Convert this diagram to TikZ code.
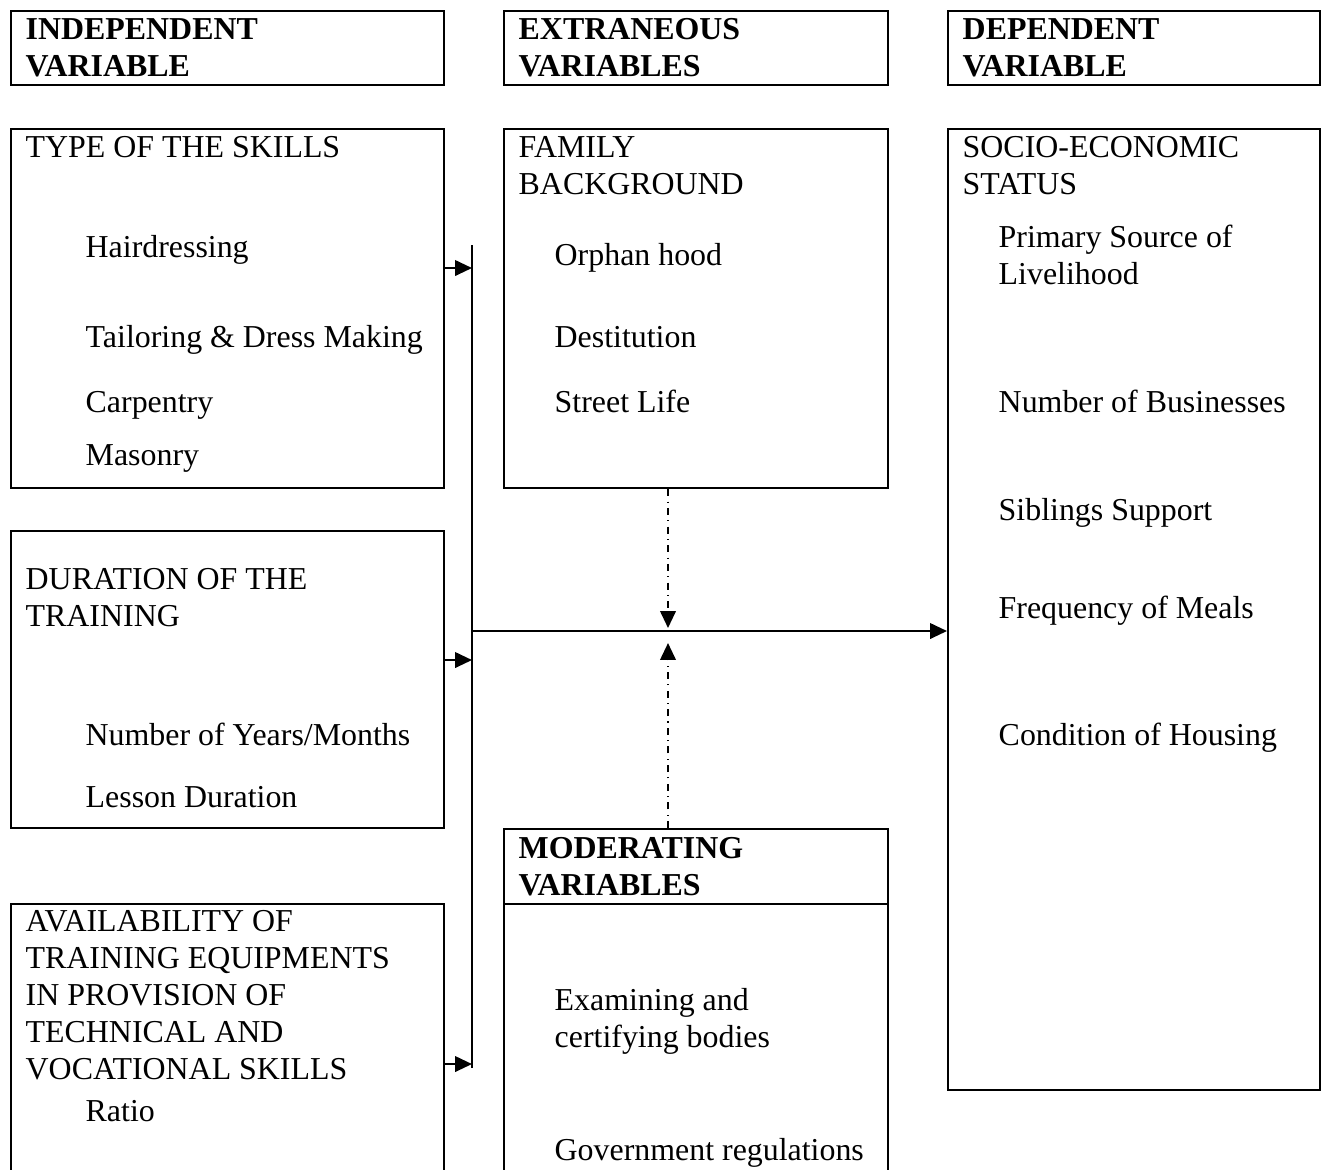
\documentclass[tikz,border=0pt]{standalone}
\usepackage{fontspec}
\setmainfont{Liberation Serif}
\usetikzlibrary{arrows.meta}

\tikzset{
  box/.style={draw, line width=0.6pt, inner sep=0pt, anchor=north west},
  txt/.style={anchor=base west, inner sep=0pt, align=left, font=\fontsize{9.07}{10.5}\selectfont},
  head/.style={txt, font=\fontsize{9.07}{10.5}\selectfont\bfseries},
  link/.style={line width=0.6pt, -{Triangle[length=4.8pt,width=4.4pt]}},
  dashdot/.style={link, dash pattern=on 2pt off 1.5pt on 0.3pt off 1.5pt},
}

\begin{document}
\begin{tikzpicture}[x=0.01cm,y=-0.01cm]
  \clip (0,0) rectangle (1325,1169);
  % headers (multi-line texts sit on the baseline of their last line)
  \node[box, minimum width=4.33cm, minimum height=0.74cm] (hIndep) at (10,10) {};
  \node[box, minimum width=3.84cm, minimum height=0.74cm] (hExtra) at (503,10) {};
  \node[box, minimum width=3.72cm, minimum height=0.74cm] (hDep) at (947,10) {};
  \node[head] (tIndep) at (25,76) {INDEPENDENT\\VARIABLE};
  \node[head] (tExtra) at (518,76) {EXTRANEOUS\\VARIABLES};
  \node[head] (tDep) at (962,76) {DEPENDENT\\VARIABLE};

  % boxes
  \node[box, minimum width=4.33cm, minimum height=3.59cm] (skills) at (10,128) {};
  \node[box, minimum width=3.84cm, minimum height=3.59cm] (family) at (503,128) {};
  \node[box, minimum width=3.72cm, minimum height=9.60cm] (socio) at (947,128) {};
  \node[box, minimum width=4.33cm, minimum height=2.97cm] (duration) at (10,530) {};
  \node[box, minimum width=3.84cm, minimum height=0.75cm] (hModer) at (503,828) {};
  \node[box, minimum width=3.84cm, minimum height=2.80cm] (moder) at (503,903) {};
  \node[box, minimum width=4.33cm, minimum height=2.80cm] (equip) at (10,903) {};

  % texts
  \node[txt] (tSkills) at (25,157) {TYPE OF THE SKILLS};
  \node[txt] (s1) at (85,257) {Hairdressing};
  \node[txt] (s2) at (85,347) {Tailoring \& Dress Making};
  \node[txt] (s3) at (85,412) {Carpentry};
  \node[txt] (s4) at (85,465) {Masonry};

  \node[txt] (tFamily) at (518,194) {FAMILY\\BACKGROUND};
  \node[txt] (f1) at (554,265) {Orphan hood};
  \node[txt] (f2) at (554,347) {Destitution};
  \node[txt] (f3) at (554,412) {Street Life};

  \node[txt] (tSocio) at (962,194) {SOCIO-ECONOMIC\\STATUS};
  \node[txt] (e1) at (998,284) {Primary Source of\\Livelihood};
  \node[txt] (e2) at (998,412) {Number of Businesses};
  \node[txt] (e3) at (998,520) {Siblings Support};
  \node[txt] (e4) at (998,618) {Frequency of Meals};
  \node[txt] (e5) at (998,745) {Condition of Housing};

  \node[txt] (tDuration) at (25,626) {DURATION OF THE\\TRAINING};
  \node[txt] (d1) at (85,745) {Number of Years/Months};
  \node[txt] (d2) at (85,807) {Lesson Duration};

  \node[head] (tModer) at (518,895) {MODERATING\\VARIABLES};
  \node[txt] (m1) at (554,1047) {Examining and\\certifying bodies};
  \node[txt] (m2) at (554,1160) {Government regulations};

  \node[txt] (tEquip) at (25,1079) {AVAILABILITY OF\\TRAINING EQUIPMENTS\\IN PROVISION OF\\TECHNICAL AND\\VOCATIONAL SKILLS};
  \node[txt] (q1) at (85,1121) {Ratio};

  % connectors
  \coordinate (busTop) at (472,245);
  \coordinate (busBot) at (472,1068);
  \coordinate (bus1) at (472,268);
  \coordinate (bus2) at (472,660);
  \coordinate (bus3) at (472,1064);
  \coordinate (hub) at (472,631);
  \coordinate (meetA) at (668,628);
  \coordinate (meetB) at (668,643);
  \draw[line width=0.6pt] (busTop) -- (busBot);
  \draw[link] (skills.east |- bus1) -- (bus1);
  \draw[link] (duration.east |- bus2) -- (bus2);
  \draw[link] (equip.east |- bus3) -- (bus3);
  \draw[link] (hub) -- (socio.west |- hub);
  \draw[dashdot] (family.south -| meetA) -- (meetA);
  \draw[dashdot] (hModer.north -| meetB) -- (meetB);
\end{tikzpicture}
\end{document}
